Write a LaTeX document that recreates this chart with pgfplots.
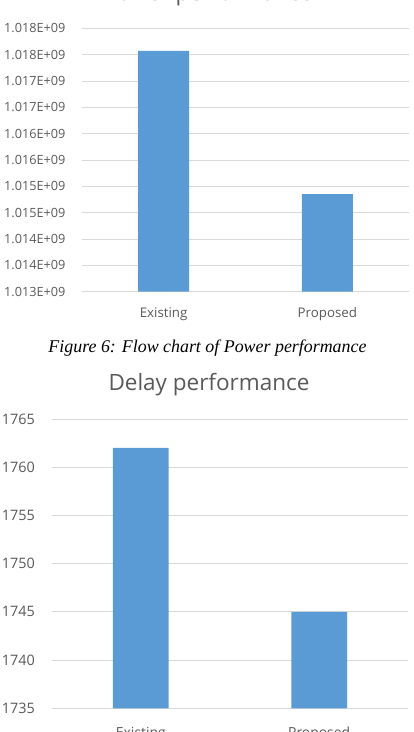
\documentclass[border=0pt]{standalone}
\usepackage{pgfplots}
\pgfplotsset{compat=1.18}
\usepackage{fontspec}
\setmainfont{Open Sans}
\newfontfamily\capfont{Liberation Serif}
\definecolor{barblue}{HTML}{5B9BD5}
\definecolor{txtgray}{HTML}{595959}
\definecolor{gridgray}{HTML}{D9D9D9}
\pgfplotsset{
  excel/.style={
    scale only axis,
    axis line style={draw=none},
    major tick length=0pt,
    ymajorgrids,
    grid style={color=gridgray, line width=0.8pt},
    xmin=-0.5, xmax=1.5,
    xtick={0,1},
    xticklabels={Existing,Proposed},
    scaled y ticks=false,
    clip=true,
    /pgf/number format/assume math mode=true,
  }
}
\begin{document}
\begin{tikzpicture}
% ---------- Power performance ----------
\begin{axis}[excel,
  at={(81.7pt,-291.7pt)}, anchor=south west,
  width=327.6pt, height=263.4pt,
  y coord trafo/.code={\begingroup\pgfkeys{/pgf/fpu=true,/pgf/fpu/output format=fixed}\pgfmathparse{#1-1013000000}\pgfmathsmuggle\pgfmathresult\endgroup},
  y coord inv trafo/.code={\begingroup\pgfkeys{/pgf/fpu=true,/pgf/fpu/output format=fixed}\pgfmathparse{#1+1013000000}\pgfmathsmuggle\pgfmathresult\endgroup},
  ymin=1013000000, ymax=1018000000,
  ytick={1013000000,1013500000,1014000000,1014500000,1015000000,1015500000,1016000000,1016500000,1017000000,1017500000,1018000000},
  yticklabels={1.013E+09,1.014E+09,1.014E+09,1.015E+09,1.015E+09,1.016E+09,1.016E+09,1.017E+09,1.017E+09,1.018E+09,1.018E+09},
  yticklabel style={font=\fontsize{12.7}{14}\selectfont, text=txtgray, anchor=east, inner sep=0pt, xshift=-16pt},
  xticklabel style={font=\fontsize{13.3}{14}\selectfont, text=txtgray, anchor=base, inner sep=0pt, yshift=-25.6pt},
]
\addplot[ybar, bar width=51pt, fill=barblue, draw=none] coordinates {(0,1017570000) (1,1014850000)};
\end{axis}
\node[anchor=base, text=txtgray, font=\fontsize{22.5}{24}\selectfont] at (208pt,-0.8pt) {Power performance};
\node[anchor=center, font=\capfont\itshape\fontsize{17.9}{19}\selectfont] at (207.5pt,-348pt) {Figure 6: Flow chart of Power performance};
\node[anchor=base, text=txtgray, font=\fontsize{22.5}{24}\selectfont] at (209pt,-390pt) {Delay performance};
% ---------- Delay performance ----------
\begin{axis}[excel,
  at={(51.7pt,-708.3pt)}, anchor=south west,
  width=356.6pt, height=289.3pt,
  y coord trafo/.code={\pgfmathparse{#1-1735}},
  y coord inv trafo/.code={\pgfmathparse{#1+1735}},
  ymin=1735, ymax=1765,
  ytick={1735,1740,1745,1750,1755,1760,1765},
  yticklabels={1735,1740,1745,1750,1755,1760,1765},
  yticklabel style={font=\fontsize{14.4}{15}\selectfont, text=txtgray, anchor=east, inner sep=0pt, xshift=-16.7pt},
  xticklabel style={font=\fontsize{13.9}{15}\selectfont, text=txtgray, anchor=base, inner sep=0pt, yshift=-28.7pt},
]
\addplot[ybar, bar width=55.7pt, fill=barblue, draw=none] coordinates {(0,1762) (1,1745)};
\end{axis}
\pgfresetboundingbox
\useasboundingbox (0pt,0pt) rectangle (414pt,-732pt);
\end{tikzpicture}
\end{document}
